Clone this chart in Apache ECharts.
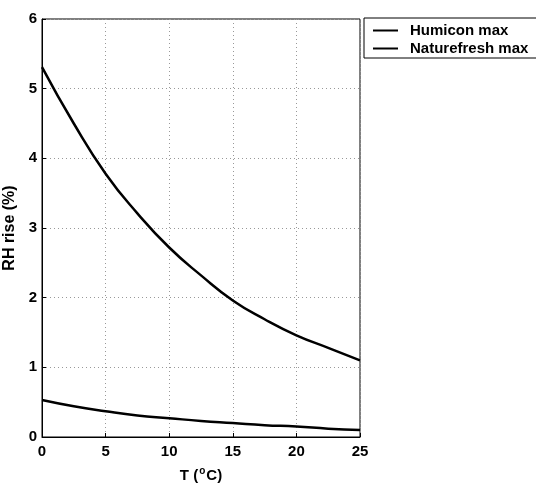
<!DOCTYPE html>
<html>
<head>
<meta charset="utf-8">
<script src="https://cdn.jsdelivr.net/npm/echarts@6/dist/echarts.min.js"></script>
<style>
  html, body { margin: 0; padding: 0; background: #fff; }
  #chart { width: 536px; height: 484px; }
</style>
</head>
<body>
<div id="chart"></div>
<script>
// temperatures (°C) where the curves were read
const temps = [0, 2.5, 5, 7.5, 10, 12.5, 15, 17.5, 20, 22.5, 25]
// RH rise (%)
const humiconMax = [5.31, 4.50, 3.78, 3.21, 2.72, 2.32, 1.96, 1.69, 1.46, 1.28, 1.10]
const naturefreshMax = [0.53, 0.44, 0.37, 0.31, 0.27, 0.23, 0.20, 0.17, 0.15, 0.12, 0.10]
const seriesNames = ['Humicon max', 'Naturefresh max']

const chart = echarts.init(document.getElementById('chart'))
const font = 'Liberation Sans, Arial, sans-serif'
const bold = { fontFamily: font, fontWeight: 'bold', color: '#000' }
const dotted = { show: true, lineStyle: { color: '#999', type: [1, 3] } }

chart.setOption({
  animation: false,
  textStyle: { fontFamily: font },
  grid: {
    left: 42, top: 19, width: 318, height: 418,
    outerBoundsMode: 'none',
    show: true, borderColor: '#000', borderWidth: 1
  },
  legend: {
    left: 364, top: 18,
    orient: 'vertical',
    backgroundColor: '#fff',
    borderColor: '#000', borderWidth: 1,
    padding: [5, 20, 2, 9],
    itemGap: 3,
    itemWidth: 25, itemHeight: 2,
    icon: 'rect',
    textStyle: { ...bold, fontSize: 15, padding: [0, 0, 0, 7] },
    data: seriesNames
  },
  xAxis: {
    type: 'value', min: 0, max: 25, interval: 5,
    name: '{t|T (}{s|o}{t|C)}',
    nameLocation: 'middle', nameGap: 29,
    nameTextStyle: {
      rich: {
        t: { ...bold, fontSize: 15 },
        s: { ...bold, fontSize: 10, verticalAlign: 'top', padding: [0, 1, 9, 1] }
      }
    },
    axisLine: { lineStyle: { color: '#000' } },
    axisTick: { inside: true, length: 4, lineStyle: { color: '#000' } },
    axisLabel: { ...bold, margin: 7, fontSize: 15 },
    splitLine: dotted
  },
  yAxis: {
    type: 'value', min: 0, max: 6, interval: 1,
    name: 'RH rise (%)',
    nameLocation: 'middle', nameGap: 17, nameRotate: 90,
    nameTextStyle: { ...bold, fontSize: 16 },
    axisLine: { lineStyle: { color: '#000' } },
    axisTick: { inside: true, length: 4, lineStyle: { color: '#000' } },
    axisLabel: { ...bold, margin: 5, fontSize: 15 },
    splitLine: dotted
  },
  series: [humiconMax, naturefreshMax].map((vals, i) => ({
    name: seriesNames[i],
    type: 'line',
    smooth: true,
    showSymbol: false,
    color: '#000',
    lineStyle: { color: '#000', width: 2.5 },
    data: temps.map((t, j) => [t, vals[j]])
  }))
})
</script>
</body>
</html>
